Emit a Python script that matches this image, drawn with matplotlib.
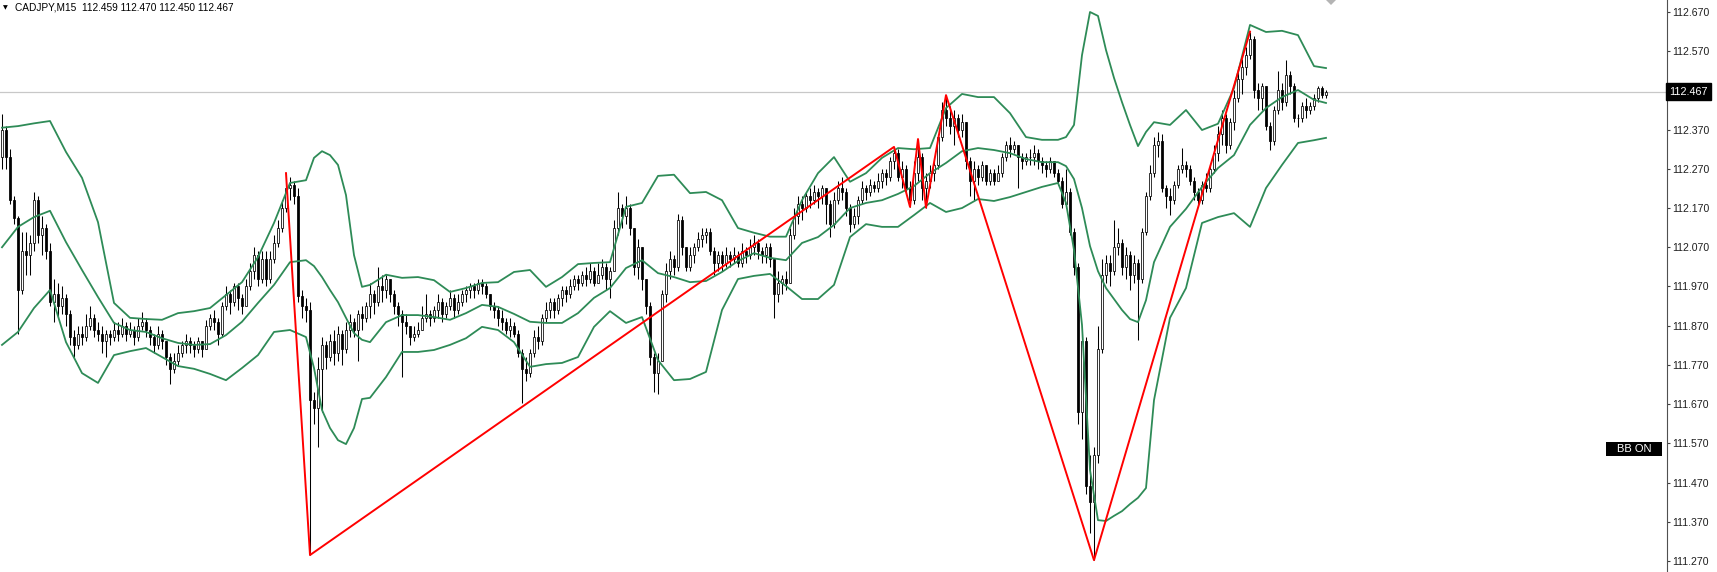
import numpy as np
import matplotlib
matplotlib.use("Agg")
import matplotlib.pyplot as plt
from matplotlib.patches import Rectangle, Polygon

plt.rcParams['font.family'] = ['Liberation Sans', 'DejaVu Sans']

# CADJPY M15, values
title = "CADJPY,M15  112.459 112.470 112.450 112.467"
last_price = 112.467
first_open = 112.30

closes = [
    112.37, 112.30, 112.19, 112.145, 111.96, 112.06, 112.05, 112.08, 112.19, 112.10,
    112.12, 112.06, 111.93, 111.95, 111.92, 111.94, 111.90, 111.84, 111.82, 111.85,
    111.84, 111.87, 111.89, 111.86, 111.85, 111.83, 111.85, 111.84, 111.86, 111.85,
    111.87, 111.85, 111.86, 111.84, 111.87, 111.88, 111.86, 111.84, 111.82, 111.85,
    111.83, 111.79, 111.76, 111.78, 111.80, 111.82, 111.83, 111.82, 111.81, 111.83,
    111.81, 111.87, 111.89, 111.88, 111.85, 111.92, 111.95, 111.93, 111.97, 111.94,
    111.92, 111.97, 112.01, 112.05, 111.99, 112.04, 111.99, 112.04, 112.08, 112.12,
    112.17, 112.22, 112.23, 112.20, 111.945, 111.92, 111.91, 111.68, 111.66, 111.76,
    111.82, 111.79, 111.83, 111.80, 111.85, 111.81, 111.86, 111.88, 111.86, 111.90,
    111.89, 111.92, 111.95, 111.93, 111.97, 111.96, 111.99, 111.95, 111.92, 111.90,
    111.88, 111.87, 111.84, 111.85, 111.86, 111.89, 111.90, 111.89, 111.91, 111.93,
    111.90, 111.92, 111.94, 111.91, 111.93, 111.95, 111.96, 111.97, 111.96, 111.98,
    111.97, 111.95, 111.92, 111.91, 111.89, 111.88, 111.86, 111.87, 111.85, 111.80,
    111.76, 111.75, 111.80, 111.84, 111.83, 111.89, 111.91, 111.93, 111.91, 111.94,
    111.96, 111.95, 111.97, 111.99, 111.98, 112.00, 111.99, 112.01, 111.98, 112.00,
    112.02, 111.99, 112.01, 112.12, 112.17, 112.15, 112.17, 112.12, 112.02, 112.07,
    111.99, 111.92, 111.79, 111.75, 111.78, 111.95, 112.01, 112.04, 112.02, 112.14,
    112.07, 112.02, 112.05, 112.07, 112.09, 112.10, 112.11, 112.06, 112.03, 112.05,
    112.03, 112.05, 112.04, 112.05, 112.03, 112.06, 112.05, 112.07, 112.08, 112.06,
    112.05, 112.07, 112.04, 111.95, 111.98, 111.99, 111.98, 112.10, 112.15, 112.18,
    112.17, 112.20, 112.19, 112.21, 112.20, 112.22, 112.18, 112.13, 112.19, 112.22,
    112.21, 112.17, 112.13, 112.15, 112.19, 112.22, 112.21, 112.23, 112.22, 112.24,
    112.26, 112.25, 112.29, 112.31, 112.25, 112.27, 112.22, 112.19, 112.26, 112.30,
    112.22, 112.24, 112.26, 112.28, 112.35, 112.42, 112.40, 112.38, 112.40, 112.37,
    112.39, 112.29, 112.24, 112.27, 112.25, 112.28, 112.24, 112.26, 112.24, 112.26,
    112.30, 112.33, 112.32, 112.33, 112.30, 112.29, 112.30, 112.30, 112.31, 112.29,
    112.28, 112.27, 112.29, 112.26, 112.24, 112.18, 112.21, 112.11, 112.02, 111.65,
    111.83, 111.46, 111.42, 111.54, 111.81, 112.00, 112.03, 112.01, 112.07, 112.08,
    112.02, 112.05, 112.00, 112.03, 111.99, 112.11, 112.20, 112.26, 112.33, 112.34,
    112.22, 112.20, 112.19, 112.23, 112.27, 112.28, 112.27, 112.24, 112.21, 112.19,
    112.23, 112.22, 112.27, 112.31, 112.36, 112.40, 112.33, 112.39, 112.45, 112.50,
    112.53, 112.56, 112.60, 112.47, 112.45, 112.48, 112.38, 112.34, 112.42, 112.47,
    112.44, 112.51, 112.48, 112.40, 112.40, 112.43, 112.42, 112.43, 112.45, 112.475,
    112.459, 112.467,
]

highs = [
    112.41, 112.38, 112.32, 112.20, 112.15, 112.11, 112.11, 112.10, 112.21, 112.20,
    112.15, 112.13, 112.08, 111.99, 111.98, 111.97, 111.95, 111.91, 111.86, 111.87,
    111.87, 111.90, 111.92, 111.90, 111.88, 111.87, 111.86, 111.86, 111.88, 111.88,
    111.89, 111.88, 111.88, 111.87, 111.89, 111.905, 111.89, 111.87, 111.85, 111.87,
    111.86, 111.83, 111.80, 111.80, 111.82, 111.83, 111.85, 111.84, 111.83, 111.84,
    111.83, 111.885, 111.90, 111.91, 111.89, 111.93, 111.97, 111.96, 111.98, 111.98,
    111.95, 111.99, 112.03, 112.07, 112.06, 112.06, 112.06, 112.06, 112.10, 112.14,
    112.19, 112.259, 112.25, 112.24, 112.22, 111.96, 111.94, 111.93, 111.70, 111.79,
    111.84, 111.83, 111.85, 111.86, 111.87, 111.86, 111.88, 111.90, 111.89, 111.91,
    111.92, 111.93, 111.98, 111.96, 112.02, 112.00, 112.00, 111.99, 111.96, 111.93,
    111.91, 111.90, 111.87, 111.87, 111.88, 111.92, 111.95, 111.91, 111.92, 111.95,
    111.94, 111.93, 111.96, 111.95, 111.95, 111.96, 111.97, 111.98, 111.98, 111.99,
    111.99, 111.98, 111.95, 111.93, 111.92, 111.91, 111.89, 111.89, 111.88, 111.86,
    111.81, 111.79, 111.81, 111.86, 111.87, 111.90, 111.93, 111.94, 111.94, 111.95,
    111.97, 111.97, 111.99, 112.00, 112.00, 112.01, 112.02, 112.03, 112.02, 112.03,
    112.04, 112.03, 112.02, 112.14, 112.21, 112.18, 112.20, 112.18, 112.12, 112.09,
    112.07, 111.99, 111.93, 111.80, 111.80, 111.96, 112.03, 112.06, 112.05, 112.155,
    112.15, 112.07, 112.07, 112.08, 112.11, 112.12, 112.12, 112.12, 112.07, 112.06,
    112.06, 112.07, 112.06, 112.07, 112.06, 112.08, 112.07, 112.09, 112.10, 112.09,
    112.07, 112.08, 112.08, 112.04, 112.01, 112.00, 112.01, 112.12, 112.17, 112.20,
    112.20, 112.21, 112.22, 112.23, 112.22, 112.23, 112.22, 112.19, 112.21, 112.24,
    112.25, 112.22, 112.18, 112.17, 112.20, 112.24, 112.23, 112.245, 112.24, 112.26,
    112.27, 112.27, 112.30, 112.326, 112.32, 112.29, 112.28, 112.24, 112.29, 112.346,
    112.31, 112.26, 112.28, 112.29, 112.36, 112.44, 112.458, 112.43, 112.42, 112.41,
    112.41, 112.39, 112.30, 112.29, 112.28, 112.29, 112.28, 112.27, 112.27, 112.28,
    112.31, 112.34, 112.35, 112.34, 112.33, 112.31, 112.31, 112.32, 112.33, 112.32,
    112.30, 112.29, 112.30, 112.29, 112.27, 112.25, 112.27, 112.22, 112.12, 112.03,
    111.85, 111.84, 111.54, 111.56, 111.87, 112.04, 112.05, 112.05, 112.14, 112.12,
    112.09, 112.07, 112.06, 112.05, 112.04, 112.12, 112.21, 112.28, 112.35, 112.365,
    112.36, 112.23, 112.22, 112.24, 112.28, 112.323, 112.29, 112.28, 112.25, 112.22,
    112.24, 112.26, 112.28, 112.33, 112.38, 112.42, 112.41, 112.40, 112.47, 112.53,
    112.55, 112.58, 112.62, 112.61, 112.49, 112.49, 112.48, 112.39, 112.43, 112.52,
    112.49, 112.548, 112.52, 112.49, 112.41, 112.44, 112.45, 112.44, 112.46, 112.48,
    112.48, 112.470,
]

lows = [
    112.27, 112.27, 112.18, 112.13, 111.85, 111.95, 112.00, 112.00, 112.06, 112.08,
    112.05, 112.04, 111.92, 111.88, 111.89, 111.90, 111.87, 111.82, 111.79, 111.81,
    111.82, 111.83, 111.86, 111.84, 111.83, 111.80, 111.79, 111.82, 111.83, 111.83,
    111.84, 111.83, 111.84, 111.82, 111.83, 111.86, 111.84, 111.82, 111.80, 111.81,
    111.81, 111.77, 111.72, 111.75, 111.77, 111.79, 111.80, 111.80, 111.79, 111.80,
    111.79, 111.81, 111.86, 111.86, 111.82, 111.84, 111.91, 111.90, 111.92, 111.91,
    111.90, 111.92, 111.96, 111.99, 111.97, 111.98, 111.97, 111.98, 112.03, 112.07,
    112.11, 112.16, 112.19, 112.18, 111.93, 111.89, 111.88, 111.285, 111.62, 111.56,
    111.65, 111.76, 111.78, 111.77, 111.78, 111.77, 111.80, 111.84, 111.84, 111.78,
    111.86, 111.88, 111.89, 111.90, 111.92, 111.93, 111.94, 111.93, 111.90, 111.87,
    111.74, 111.85, 111.82, 111.83, 111.84, 111.86, 111.88, 111.87, 111.88, 111.89,
    111.88, 111.89, 111.91, 111.89, 111.90, 111.92, 111.93, 111.94, 111.94, 111.95,
    111.95, 111.94, 111.91, 111.89, 111.87, 111.86, 111.85, 111.84, 111.84, 111.79,
    111.673, 111.73, 111.74, 111.79, 111.81, 111.82, 111.88, 111.89, 111.89, 111.90,
    111.92, 111.93, 111.94, 111.96, 111.96, 111.97, 111.97, 111.98, 111.97, 111.98,
    111.99, 111.96, 111.94, 112.01, 112.10, 112.12, 112.13, 112.10, 112.00, 111.99,
    111.96, 111.90, 111.77, 111.70, 111.695, 111.78, 111.93, 111.99, 112.00, 112.01,
    112.05, 112.01, 112.01, 112.03, 112.06, 112.07, 112.08, 112.05, 112.00, 112.01,
    112.01, 112.02, 112.02, 112.03, 112.02, 112.02, 112.03, 112.04, 112.05, 112.04,
    112.03, 112.03, 112.02, 111.89, 111.93, 111.95, 111.96, 111.98, 112.09, 112.13,
    112.14, 112.16, 112.17, 112.18, 112.17, 112.18, 112.13, 112.096, 112.12, 112.18,
    112.19, 112.15, 112.11, 112.12, 112.13, 112.18, 112.19, 112.20, 112.21, 112.21,
    112.22, 112.23, 112.24, 112.27, 112.24, 112.22, 112.21, 112.173, 112.18, 112.24,
    112.19, 112.171, 112.22, 112.24, 112.27, 112.34, 112.38, 112.36, 112.33, 112.35,
    112.35, 112.27, 112.20, 112.19, 112.23, 112.24, 112.23, 112.23, 112.23, 112.24,
    112.25, 112.29, 112.30, 112.31, 112.22, 112.27, 112.28, 112.28, 112.28, 112.27,
    112.26, 112.25, 112.26, 112.25, 112.23, 112.17, 112.17, 112.10, 112.00, 111.62,
    111.58, 111.44, 111.34, 111.272, 111.52, 111.80, 111.98, 111.97, 112.00, 112.05,
    112.00, 111.99, 111.96, 111.98, 111.833, 111.98, 112.10, 112.19, 112.25, 112.30,
    112.21, 112.17, 112.152, 112.18, 112.22, 112.26, 112.25, 112.23, 112.19, 112.18,
    112.18, 112.21, 112.21, 112.26, 112.29, 112.33, 112.31, 112.32, 112.37, 112.44,
    112.46, 112.51, 112.55, 112.45, 112.42, 112.42, 112.37, 112.318, 112.33, 112.41,
    112.42, 112.43, 112.46, 112.39, 112.377, 112.39, 112.40, 112.41, 112.42, 112.44,
    112.45, 112.450,
]

# Bollinger bands: read every 4th bar, every 2nd bar where the bands bend sharply
bb_idx = (list(range(0, 76, 4)) + list(range(76, 92, 2)) + list(range(92, 264, 4))
          + list(range(264, 290, 2)) + list(range(292, 329, 4)) + [331])
bb_upper = [
    112.375, 112.379, 112.386, 112.392, 112.313, 112.247, 112.134, 111.928, 111.890, 111.887,
    111.885, 111.902, 111.907, 111.915, 111.948, 111.981, 112.045, 112.132, 112.234,
    112.241, 112.298, 112.315, 112.305, 112.280, 112.203, 112.050, 111.969,
    111.974, 112.000, 111.992, 111.994, 111.986, 111.956, 111.966, 111.979, 111.981, 112.007,
    112.012, 111.969, 111.994, 112.027, 112.030, 112.032, 112.173, 112.183, 112.252, 112.255,
    112.208, 112.211, 112.190, 112.119, 112.107, 112.097, 112.097, 112.190, 112.259, 112.300,
    112.237, 112.259, 112.298, 112.323, 112.320, 112.323, 112.425, 112.461, 112.453, 112.453,
    112.412, 112.351, 112.344,
    112.344, 112.351, 112.382, 112.560, 112.670, 112.660, 112.573, 112.502, 112.440, 112.382,
    112.328, 112.364, 112.389,
    112.382, 112.420, 112.369, 112.385, 112.476, 112.637, 112.619, 112.622, 112.611, 112.532,
    112.527,
]
bb_mid = [
    112.070, 112.122, 112.147, 112.163, 112.083, 112.012, 111.943, 111.877, 111.859, 111.854,
    111.838, 111.826, 111.821, 111.823, 111.846, 111.880, 111.928, 111.974, 112.032,
    112.037, 112.022, 111.994, 111.961, 111.930, 111.890, 111.851, 111.834,
    111.828, 111.879, 111.897, 111.897, 111.892, 111.885, 111.902, 111.923, 111.918, 111.900,
    111.880, 111.877, 111.877, 111.902, 111.941, 111.966, 112.017, 112.037, 112.004, 111.994,
    111.981, 111.984, 112.007, 112.035, 112.055, 112.043, 112.037, 112.081, 112.096, 112.127,
    112.170, 112.183, 112.190, 112.206, 112.226, 112.259, 112.285, 112.315, 112.323, 112.318,
    112.310, 112.295, 112.287,
    112.287, 112.277, 112.244, 112.170, 112.073, 112.009, 111.966, 111.938, 111.910, 111.887,
    111.879, 111.935, 112.032,
    112.122, 112.168, 112.224, 112.272, 112.305, 112.382, 112.425, 112.453, 112.471, 112.446,
    112.438,
]
bb_lower = [
    111.821, 111.854, 111.915, 111.961, 111.828, 111.749, 111.724, 111.795, 111.805, 111.813,
    111.790, 111.767, 111.760, 111.747, 111.731, 111.762, 111.795, 111.854, 111.859,
    111.841, 111.762, 111.655, 111.609, 111.578, 111.568, 111.609, 111.683,
    111.686, 111.739, 111.803, 111.803, 111.808, 111.821, 111.838, 111.867, 111.859, 111.828,
    111.765, 111.772, 111.775, 111.790, 111.867, 111.907, 111.877, 111.892, 111.782, 111.731,
    111.734, 111.752, 111.910, 111.989, 111.997, 112.002, 111.971, 111.938, 111.938, 111.974,
    112.096, 112.129, 112.122, 112.122, 112.152, 112.183, 112.160, 112.170, 112.193, 112.188,
    112.198, 112.211, 112.224,
    112.234, 112.183, 112.063, 111.872, 111.502, 111.374, 111.372, 111.385, 111.397, 111.415,
    111.431, 111.456, 111.680,
    111.890, 111.966, 112.132, 112.147, 112.157, 112.122, 112.221, 112.280, 112.336, 112.343,
    112.349,
]

# zigzag turning points (bar index, price)
zz_idx = [71, 77, 223, 227, 229, 231, 236, 273, 312]
zz_price = [112.259, 111.285, 112.326, 112.173, 112.346, 112.171, 112.458, 111.272, 112.620]

tick_labels = ["111.270", "111.370", "111.470", "111.570", "111.670", "111.770", "111.870",
               "111.970", "112.070", "112.170", "112.270", "112.370", "112.570", "112.670"]

W, H = 1717, 572
fig = plt.figure(figsize=(W / 100, H / 100), dpi=100)
fig.patch.set_facecolor("white")
ax = fig.add_axes([0, 0, 1667 / W, 1])
ax.set_facecolor("white")

c = np.array(closes)
o = np.array([first_open] + closes[:-1])
hi = np.array(highs)
lo = np.array(lows)
idx = np.arange(len(c))

ax.axhline(last_price, color="#c8c8c8", lw=0.9, zorder=0)

ax.vlines(idx, lo, hi, color="black", lw=0.75, zorder=2)
up = c >= o
ax.bar(idx[up], (c - o)[up], bottom=o[up], width=0.7, color="white",
       edgecolor="black", linewidth=0.55, zorder=3)
ax.bar(idx[~up], (o - c)[~up], bottom=c[~up], width=0.7, color="black",
       edgecolor="black", linewidth=0.55, zorder=3)

for band in (bb_upper, bb_mid, bb_lower):
    ax.plot(bb_idx, band, color="#2e8b57", lw=1.3, zorder=4,
            solid_joinstyle="round")

ax.plot(zz_idx, zz_price, color="#ff0000", lw=1.4, zorder=5)

ax.set_xlim(-0.5, 416.25)
ax.set_ylim(111.2418, 112.7006)

ax.yaxis.tick_right()
ax.set_yticks([float(t) for t in tick_labels])
ax.set_yticklabels(tick_labels)
ax.tick_params(axis="y", direction="out", length=2, width=0.8, color="#404040",
               labelsize=7.6, labelcolor="#1e1e1e", pad=2)
ax.set_xticks([])
for side in ("top", "left", "bottom"):
    ax.spines[side].set_visible(False)
ax.spines["right"].set_color("#505050")
ax.spines["right"].set_linewidth(0.8)

# current price tag on the scale
ax.annotate(f"{last_price:.3f}", xy=(1, last_price), xycoords=("axes fraction", "data"),
            xytext=(1.6, 0), textcoords="offset points", ha="left", va="center",
            fontsize=7.8, color="white", annotation_clip=False,
            bbox=dict(boxstyle="square,pad=0.3", fc="black", ec="black"))

# header
fig.text(3 / W, 1 - 7.5 / H, "\u25bc", fontsize=4.5, family="DejaVu Sans",
         ha="left", va="center", color="black")
fig.text(15 / W, 1 - 7.5 / H, title, fontsize=7.3, ha="left", va="center", color="black")

# BB ON button
fig.patches.append(Rectangle((1606 / W, 1 - 456 / H), 56 / W, 14 / H,
                             transform=fig.transFigure, facecolor="black", edgecolor="none"))
fig.text(1634 / W, 1 - 449 / H, "BB ON", fontsize=8, color="white",
         ha="center", va="center")

# chart shift marker
fig.patches.append(Polygon([(1326 / W, 1), (1336 / W, 1), (1331 / W, 1 - 5 / H)],
                           closed=True, transform=fig.transFigure,
                           facecolor="#b4b4b4", edgecolor="none"))

fig.savefig("out.png", dpi=100)
